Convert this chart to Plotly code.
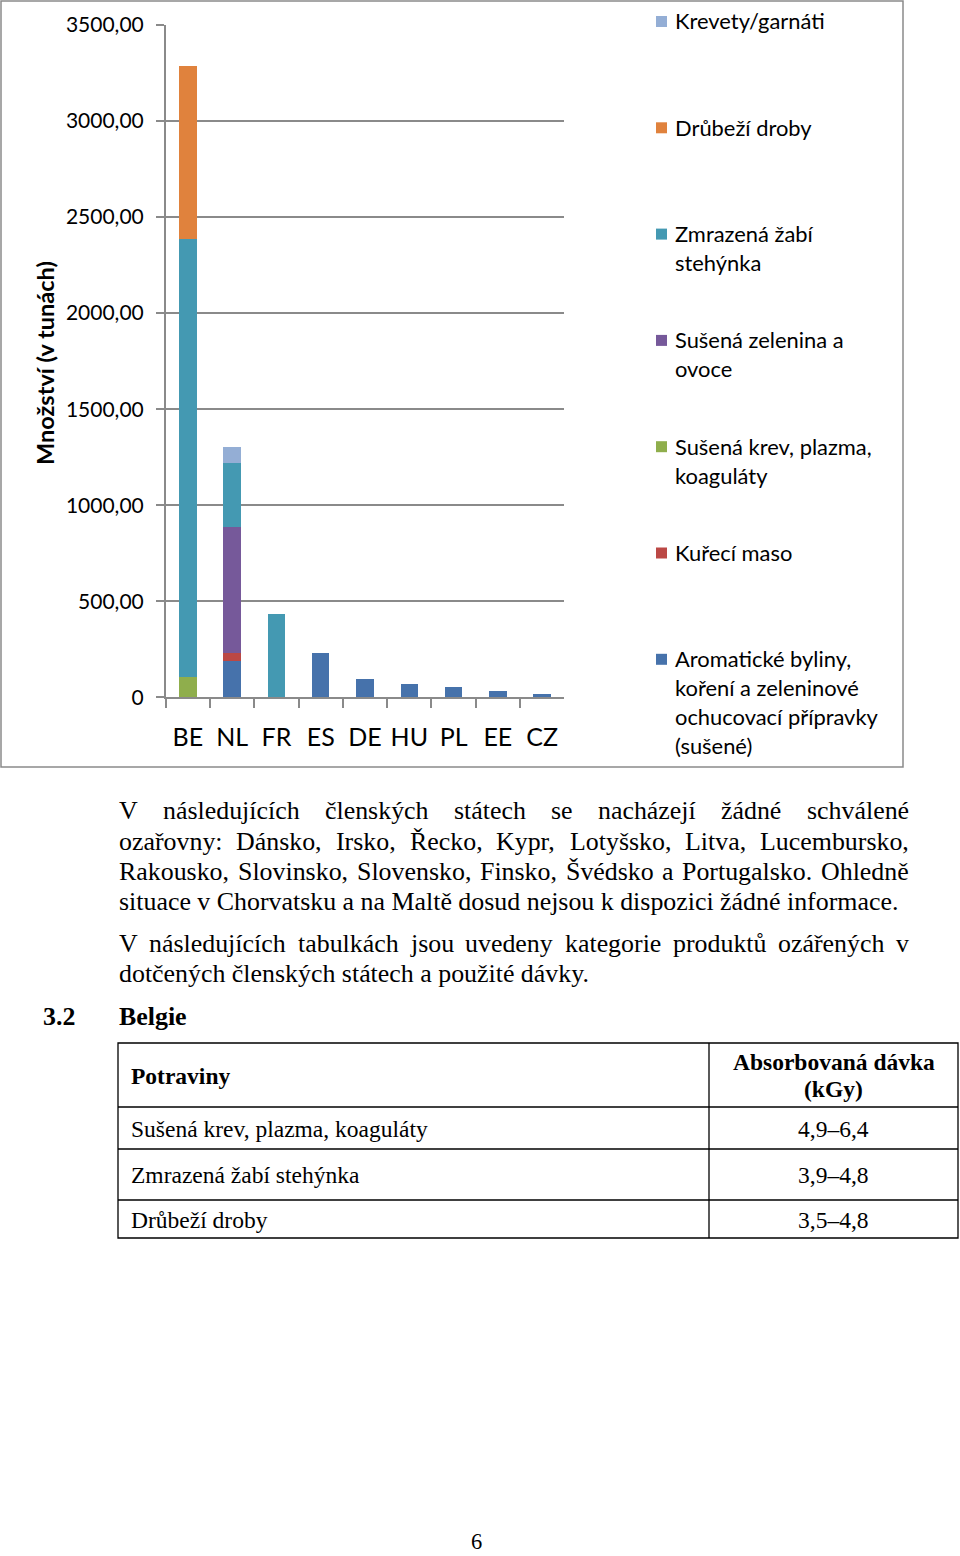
import unicodedata
import plotly.graph_objects as go

W, H = 960, 1556

# ---------------- data ----------------
countries = ["BE", "NL", "FR", "ES", "DE", "HU", "PL", "EE", "CZ"]
aromatic = [0, 190, 0, 231, 95, 68, 54, 31, 19]
chicken = [0, 39, 0, 0, 0, 0, 0, 0, 0]
blood = [105, 0, 0, 0, 0, 0, 0, 0, 0]
dried_veg = [0, 660, 0, 0, 0, 0, 0, 0, 0]
frog = [2280, 333, 434, 0, 0, 0, 0, 0, 0]
offal = [900, 0, 0, 0, 0, 0, 0, 0, 0]
shrimp = [0, 83, 0, 0, 0, 0, 0, 0, 0]

series_names = ["Aromatické byliny, koření a zeleninové ochucovací přípravky (sušené)",
                "Kuřecí maso", "Sušená krev, plazma, koaguláty", "Sušená zelenina a ovoce",
                "Zmrazená žabí stehýnka", "Drůbeží droby", "Krevety/garnáti"]
series_values = [aromatic, chicken, blood, dried_veg, frog, offal, shrimp]
series_colors = ["#4672AB", "#BB4845", "#8FAE4C", "#76599A", "#4499B2", "#E0823D", "#94AED5"]

legend_lines = [
    ["Krevety/garnáti"],
    ["Drůbeží droby"],
    ["Zmrazená žabí", "stehýnka"],
    ["Sušená zelenina a", "ovoce"],
    ["Sušená krev, plazma,", "koaguláty"],
    ["Kuřecí maso"],
    ["Aromatické byliny,", "koření a zeleninové", "ochucovací přípravky", "(sušené)"],
]

y_ticks = [0, 500, 1000, 1500, 2000, 2500, 3000, 3500]
y_tick_labels = ["0", "500,00", "1000,00", "1500,00", "2000,00", "2500,00", "3000,00", "3500,00"]
y_title = "Množství (v tunách)"

paragraph_lines = [
    ("V následujících členských státech se nacházejí žádné schválené", True),
    ("ozařovny: Dánsko, Irsko, Řecko, Kypr, Lotyšsko, Litva, Lucembursko,", True),
    ("Rakousko, Slovinsko, Slovensko, Finsko, Švédsko a Portugalsko. Ohledně", True),
    ("situace v Chorvatsku a na Maltě dosud nejsou k dispozici žádné informace.", False),
    ("V následujících tabulkách jsou uvedeny kategorie produktů ozářených v", True),
    ("dotčených členských státech a použité dávky.", False),
]
section_number = "3.2"
section_title = "Belgie"
table_header = ["Potraviny", "Absorbovaná dávka", "(kGy)"]
foods = ["Sušená krev, plazma, koaguláty", "Zmrazená žabí stehýnka", "Drůbeží droby"]
doses = ["4,9–6,4", "3,9–4,8", "3,5–4,8"]
page_number = "6"


def px(x):
    return x / W


def py(y):
    return 1 - y / H


GRAY = "#8a8a8a"
SANS = "Lato"
SERIF = "Liberation Serif, Times New Roman, serif"
FS_BODY = 25.9
FS_TAB = 23.5

fig = go.Figure()
for name, vals, col in zip(series_names, series_values, series_colors):
    fig.add_trace(go.Bar(x=countries, y=vals, name=name, marker_color=col,
                         marker_line_width=0, showlegend=False))

fig.update_layout(
    width=W, height=H, margin=dict(l=0, r=0, t=0, b=0, pad=0, autoexpand=False),
    paper_bgcolor="white", plot_bgcolor="white", showlegend=False,
    barmode="stack", bargap=0.607,
    xaxis=dict(domain=[px(165.7), px(564.3)], type="category", showline=True,
               linecolor=GRAY, linewidth=1.5, ticks="outside", tickson="boundaries",
               ticklen=9, tickcolor=GRAY, tickwidth=1.5, showgrid=False, tickangle=0,
               ticklabelstandoff=17, automargin=False,
               tickfont=dict(family=SANS, size=25, color="#000"), fixedrange=True),
    yaxis=dict(domain=[py(697.3), py(25)], range=[0, 3500], tickvals=y_ticks,
               ticktext=y_tick_labels, showline=True, linecolor=GRAY, linewidth=1.5,
               ticks="outside", ticklen=8, tickcolor=GRAY, tickwidth=1.5,
               showgrid=True, gridcolor=GRAY, gridwidth=1.5, zeroline=False,
               ticklabelstandoff=8, automargin=False,
               tickfont=dict(family=SANS, size=21, color="#000"), fixedrange=True),
)

shapes = []
annotations = []

# chart frame
shapes.append(dict(type="rect", xref="paper", yref="paper", x0=px(1), x1=px(903),
                   y0=py(767), y1=py(1), line=dict(color=GRAY, width=1.5)))

# y title
annotations.append(dict(text="<b>" + y_title + "</b>", x=px(45), y=py(363), xref="paper",
                        yref="paper", textangle=-90, xanchor="center", yanchor="middle",
                        showarrow=False, font=dict(family=SANS, size=23.5, color="#000")))

# legend
leg_top = 21
leg_step = 106.3
line_step = 29
leg_colors = list(reversed(series_colors))
for i, lines in enumerate(legend_lines):
    yc = leg_top + i * leg_step
    shapes.append(dict(type="rect", xref="paper", yref="paper", x0=px(656), x1=px(667),
                       y0=py(yc + 6), y1=py(yc - 5), fillcolor=leg_colors[i], line_width=0))
    for j, t in enumerate(lines):
        annotations.append(dict(text=t, x=px(673), y=py(yc + j * line_step), xref="paper",
                                yref="paper", xanchor="left", yanchor="middle",
                                showarrow=False, font=dict(family=SANS, size=21.9, color="#000")))

# Times-like width table for justified lines
TW = {' ': 250, 'a': 444, 'b': 500, 'c': 444, 'd': 500, 'e': 444, 'f': 333, 'g': 500,
      'h': 500, 'i': 278, 'j': 278, 'k': 500, 'l': 278, 'm': 778, 'n': 500, 'o': 500,
      'p': 500, 'q': 500, 'r': 333, 's': 389, 't': 278, 'u': 500, 'v': 500, 'w': 722,
      'x': 500, 'y': 500, 'z': 444, 'A': 722, 'B': 667, 'C': 667, 'D': 722, 'E': 611,
      'F': 556, 'G': 722, 'H': 722, 'I': 333, 'J': 389, 'K': 722, 'L': 611, 'M': 889,
      'N': 722, 'O': 722, 'P': 556, 'Q': 722, 'R': 667, 'S': 556, 'T': 611, 'U': 722,
      'V': 722, 'W': 944, 'X': 722, 'Y': 722, 'Z': 611, ',': 250, '.': 250, ':': 278}


def tw(s, fs):
    tot = 0
    for ch in s:
        base = unicodedata.normalize("NFD", ch)[0]
        tot += TW.get(base, 500)
    return tot / 1000 * fs


def txt(text, x, y, fs, anchor="left"):
    return dict(text=text, x=px(x), y=py(y), xref="paper", yref="paper",
                xanchor=anchor, yanchor="middle", showarrow=False, borderpad=0,
                font=dict(family=SERIF, size=fs, color="#000"))


text_left, text_right = 118, 908
line_ys = [811, 841, 871, 901, 943, 973]
for (line, just), yc in zip(paragraph_lines, line_ys):
    if just:
        words = line.split(" ")
        widths = [tw(w, FS_BODY) for w in words]
        gap = (text_right - text_left - sum(widths)) / (len(words) - 1)
        x = text_left
        for w, wd in zip(words, widths):
            annotations.append(txt(w, x, yc, FS_BODY))
            x += wd + gap
    else:
        annotations.append(txt(line, text_left, yc, FS_BODY))

# heading
annotations.append(txt("<b>" + section_number + "</b>", 42, 1016, FS_BODY))
annotations.append(txt("<b>" + section_title + "</b>", 118, 1016, FS_BODY))

# table
tl, tr, tm = 118, 958, 709
row_lines = [1043, 1107, 1149, 1200, 1238]
shapes.append(dict(type="rect", xref="paper", yref="paper", x0=px(tl), x1=px(tr),
                   y0=py(row_lines[-1]), y1=py(row_lines[0]), line=dict(color="#000", width=1.3)))
for yl in row_lines[1:-1]:
    shapes.append(dict(type="line", xref="paper", yref="paper", x0=px(tl), x1=px(tr),
                       y0=py(yl), y1=py(yl), line=dict(color="#000", width=1.3)))
shapes.append(dict(type="line", xref="paper", yref="paper", x0=px(tm), x1=px(tm),
                   y0=py(row_lines[0]), y1=py(row_lines[-1]), line=dict(color="#000", width=1.3)))

annotations.append(txt("<b>" + table_header[0] + "</b>", 130, 1076, FS_TAB))
annotations.append(txt("<b>" + table_header[1] + "</b>", 833.5, 1062, FS_TAB, "center"))
annotations.append(txt("<b>" + table_header[2] + "</b>", 833.5, 1089, FS_TAB, "center"))
row_ys = [1129, 1175, 1220]
for food, dose, yc in zip(foods, doses, row_ys):
    annotations.append(txt(food, 130, yc, FS_TAB))
    annotations.append(txt(dose, 833.5, yc, FS_TAB, "center"))

annotations.append(txt(page_number, 476, 1541, 22.5, "center"))

fig.update_layout(shapes=shapes, annotations=annotations)
fig.write_html(
    "out.html",
    config={"displayModeBar": False},
    post_script=("document.documentElement.style.margin='0';"
                 "document.documentElement.style.overflow='hidden';"
                 "document.body.style.margin='0';document.body.style.padding='0';"
                 "document.body.style.overflow='hidden';"
                 "document.body.style.height='" + str(H) + "px';"
                 "var gd=document.getElementById('{plot_id}');"
                 "gd.style.position='fixed';gd.style.left='0px';gd.style.top='0px';"),
)
